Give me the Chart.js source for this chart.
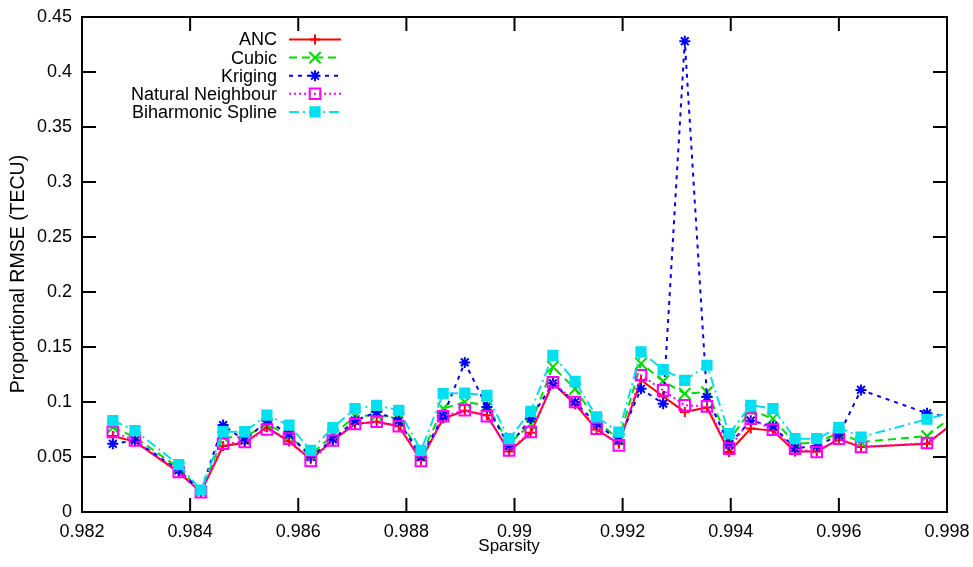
<!DOCTYPE html>
<html>
<head>
<meta charset="utf-8">
<title>Proportional RMSE vs Sparsity</title>
<script src="https://cdn.jsdelivr.net/npm/chart.js@4.4.1/dist/chart.umd.min.js"></script>
<style>
  html, body { margin: 0; padding: 0; background: #fff; }
  #wrap { width: 973px; height: 567px; position: relative; }
</style>
</head>
<body>
<div id="wrap"><canvas id="rmse-chart"></canvas></div>
<script>
// values
const sparsity = [0.98257, 0.98298, 0.98379, 0.98420, 0.98461, 0.98501, 0.98542, 0.98583, 0.98623,
    0.98664, 0.98705, 0.98745, 0.98786, 0.98827, 0.98868, 0.98908, 0.98949, 0.98990, 0.99030,
    0.99071, 0.99112, 0.99152, 0.99193, 0.99234, 0.99275, 0.99315, 0.99356, 0.99397, 0.99437,
    0.99478, 0.99519, 0.99559, 0.99600, 0.99641, 0.99763, 0.99815];

const ancRmse = [0.069, 0.064, 0.036, 0.018, 0.060, 0.063, 0.077, 0.064, 0.048,
    0.065, 0.080, 0.082, 0.078, 0.047, 0.085, 0.092, 0.088, 0.055, 0.072,
    0.117, 0.098, 0.075, 0.062, 0.120, 0.105, 0.091, 0.095, 0.0545, 0.0758,
    0.074, 0.055, 0.055, 0.066, 0.059, 0.062, 0.0823];

const cubicRmse = [0.077, 0.068, 0.040, 0.019, 0.068, 0.068, 0.080, 0.069, 0.052,
    0.070, 0.087, 0.088, 0.085, 0.052, 0.094, 0.100, 0.097, 0.062, 0.080,
    0.132, 0.112, 0.083, 0.066, 0.135, 0.119, 0.1076, 0.109, 0.065, 0.0925,
    0.085, 0.062, 0.063, 0.072, 0.0636, 0.069, 0.0893];

const krigingRmse = [0.062, 0.065, 0.038, 0.019, 0.079, 0.065, 0.083, 0.071, 0.050,
    0.066, 0.083, 0.091, 0.083, 0.050, 0.087, 0.136, 0.0955, 0.060, 0.085,
    0.117, 0.100, 0.080, 0.065, 0.112, 0.0985, 0.428, 0.1045, 0.0615, 0.083,
    0.078, 0.058, 0.060, 0.070, 0.111, 0.0897, 0.0857];

const naturalRmse = [0.0727, 0.065, 0.0364, 0.018, 0.062, 0.0636, 0.075, 0.0667, 0.0464,
    0.065, 0.080, 0.082, 0.078, 0.0464, 0.087, 0.0925, 0.087, 0.056, 0.0727,
    0.118, 0.100, 0.0758, 0.0606, 0.1243, 0.1106, 0.097, 0.096, 0.0576, 0.0849,
    0.0749, 0.0576, 0.0545, 0.0667, 0.0591, 0.0627, 0.082];

const biharmonicRmse = [0.083, 0.074, 0.043, 0.020, 0.073, 0.073, 0.088, 0.079, 0.056,
    0.0767, 0.094, 0.097, 0.0925, 0.056, 0.1076, 0.108, 0.106, 0.0667, 0.0915,
    0.1424, 0.1188, 0.0864, 0.0727, 0.1455, 0.1295, 0.1197, 0.1334, 0.0712, 0.097,
    0.094, 0.0667, 0.0667, 0.0767, 0.0682, 0.0843, 0.0918];

const seriesNames = ['ANC', 'Cubic', 'Kriging', 'Natural Neighbour', 'Biharmonic Spline'];
const xTickLabels = ['0.982', '0.984', '0.986', '0.988', '0.99', '0.992', '0.994', '0.996', '0.998'];
const yTickLabels = ['0', '0.05', '0.1', '0.15', '0.2', '0.25', '0.3', '0.35', '0.4', '0.45'];
const xTitle = 'Sparsity';
const yTitle = 'Proportional RMSE (TECU)';

const FONT = "'Liberation Sans', Arial, Helvetica, sans-serif";

function toPoints(values) {
    return values.map(function (v, i) { return { x: sparsity[i], y: v }; });
}

function makeSeries(name, values, color, dash, style, radius, fill, order) {
    return {
        label: name,
        data: toPoints(values),
        borderColor: color,
        borderWidth: 2,
        borderDash: dash,
        pointStyle: style,
        pointRadius: radius,
        pointBorderWidth: 2,
        pointBorderColor: color,
        pointBackgroundColor: fill,
        tension: 0,
        fill: false,
        clip: 0,
        order: order
    };
}

// frame, inward ticks, axis titles and the key, drawn gnuplot style
const frameAndKey = {
    id: 'frameAndKey',
    afterDatasetsDraw: function (chart) {
        var ctx = chart.ctx;
        var area = chart.chartArea;
        var xs = chart.scales.x;
        var ys = chart.scales.y;

        ctx.save();
        ctx.strokeStyle = '#000';
        ctx.lineWidth = 2;
        ctx.setLineDash([]);
        ctx.beginPath();
        xTickLabels.forEach(function (t) {
            var px = xs.getPixelForValue(parseFloat(t));
            ctx.moveTo(px, area.bottom);
            ctx.lineTo(px, area.bottom - 14);
            ctx.moveTo(px, area.top);
            ctx.lineTo(px, area.top + 14);
        });
        yTickLabels.forEach(function (t) {
            var py = ys.getPixelForValue(parseFloat(t));
            ctx.moveTo(area.left, py);
            ctx.lineTo(area.left + 14, py);
            ctx.moveTo(area.right, py);
            ctx.lineTo(area.right - 14, py);
        });
        ctx.stroke();
        ctx.strokeRect(area.left, area.top, area.right - area.left, area.bottom - area.top);

        // axis titles
        ctx.fillStyle = '#000';
        ctx.textAlign = 'center';
        ctx.textBaseline = 'middle';
        ctx.font = '17px ' + FONT;
        ctx.fillText(xTitle, 509, 546);
        ctx.save();
        ctx.translate(19, 274);
        ctx.rotate(-Math.PI / 2);
        ctx.font = '19.5px ' + FONT;
        ctx.fillText(yTitle, 0, 0);
        ctx.restore();

        // key
        var textRight = 277, lineStart = 289, lineEnd = 341, markX = 315;
        ctx.font = '18px ' + FONT;
        ctx.textAlign = 'right';
        ctx.textBaseline = 'middle';
        chart.data.datasets.forEach(function (ds, i) {
            var y = 39.5 + i * 18.1;
            ctx.fillStyle = '#000';
            ctx.fillText(ds.label, textRight, y + 1);

            ctx.strokeStyle = ds.borderColor;
            ctx.lineWidth = ds.borderWidth;
            ctx.setLineDash(ds.borderDash);
            ctx.beginPath();
            ctx.moveTo(lineStart, y);
            ctx.lineTo(lineEnd, y);
            ctx.stroke();

            ctx.setLineDash([]);
            ctx.fillStyle = ds.pointBackgroundColor;
            ctx.lineWidth = ds.pointBorderWidth;
            if (Chart.helpers && Chart.helpers.drawPoint) {
                Chart.helpers.drawPoint(ctx, {
                    pointStyle: ds.pointStyle,
                    radius: ds.pointRadius,
                    rotation: 0,
                    borderWidth: ds.pointBorderWidth
                }, markX, y);
            }
        });
        ctx.restore();
    }
};

document.addEventListener('DOMContentLoaded', function () {
    var ctx = document.getElementById('rmse-chart').getContext('2d');

    new Chart(ctx, {
        type: 'line',
        data: {
            datasets: [
                makeSeries(seriesNames[0], ancRmse, '#ff0000', [], 'cross', 5, '#ff0000', 5),
                makeSeries(seriesNames[1], cubicRmse, '#00dd00', [8, 5], 'crossRot', 8, '#00dd00', 4),
                makeSeries(seriesNames[2], krigingRmse, '#0000ff', [4, 5], 'star', 5.5, '#0000ff', 3),
                makeSeries(seriesNames[3], naturalRmse, '#ff00ff', [2, 3], 'rect', 7.5, 'rgba(0,0,0,0)', 2),
                makeSeries(seriesNames[4], biharmonicRmse, '#00e0f0', [10, 4, 2, 4], 'rect', 6.5, '#00e0f0', 1)
            ]
        },
        options: {
            responsive: true,
            maintainAspectRatio: false,
            animation: false,
            layout: { padding: { top: 17, right: 26, bottom: 0, left: 0 } },
            plugins: {
                legend: { display: false },
                tooltip: { enabled: false }
            },
            scales: {
                x: {
                    type: 'linear',
                    min: 0.982,
                    max: 0.998,
                    grid: { display: false, drawTicks: false },
                    border: { display: false },
                    afterBuildTicks: function (scale) {
                        scale.ticks = xTickLabels.map(function (t) { return { value: parseFloat(t) }; });
                    },
                    afterFit: function (scale) {
                        scale.height = 55;
                        scale.paddingLeft = 0;
                        scale.paddingRight = 0;
                    },
                    ticks: {
                        autoSkip: false,
                        maxRotation: 0,
                        padding: 9,
                        color: '#000',
                        font: { family: FONT, size: 18 },
                        callback: function (value, index) { return xTickLabels[index]; }
                    }
                },
                y: {
                    type: 'linear',
                    min: 0,
                    max: 0.45,
                    grid: { display: false, drawTicks: false },
                    border: { display: false },
                    afterBuildTicks: function (scale) {
                        scale.ticks = yTickLabels.map(function (t) { return { value: parseFloat(t) }; });
                    },
                    afterFit: function (scale) {
                        scale.width = 82;
                        scale.paddingTop = 0;
                        scale.paddingBottom = 0;
                    },
                    ticks: {
                        autoSkip: false,
                        padding: 10,
                        color: '#000',
                        font: { family: FONT, size: 18 },
                        callback: function (value, index) { return yTickLabels[index]; }
                    }
                }
            }
        },
        plugins: [frameAndKey]
    });
});
</script>
</body>
</html>
